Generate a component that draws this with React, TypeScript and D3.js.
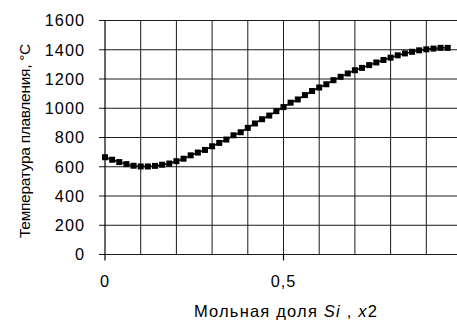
import * as d3 from "d3";

const WIDTH = 457;
const HEIGHT = 322;
const MARGIN = { top: 20.5, left: 105, bottom: 67.5 };

// mole fraction of Si, step 0.02
const moleFraction = [
  0, 0.02, 0.04, 0.06, 0.08, 0.1, 0.12, 0.14, 0.16, 0.18,
  0.2, 0.22, 0.24, 0.26, 0.28, 0.3, 0.32, 0.34, 0.36, 0.38,
  0.4, 0.42, 0.44, 0.46, 0.48, 0.5, 0.52, 0.54, 0.56, 0.58,
  0.6, 0.62, 0.64, 0.66, 0.68, 0.7, 0.72, 0.74, 0.76, 0.78,
  0.8, 0.82, 0.84, 0.86, 0.88, 0.9, 0.92, 0.94, 0.96,
];
const meltingTemp = [
  665, 648, 632, 618, 607, 602, 602, 606, 614, 622,
  638, 655, 678, 697, 715, 740, 763, 786, 815, 836,
  866, 896, 925, 950, 980, 1008, 1038, 1060, 1090, 1118,
  1142, 1164, 1192, 1215, 1238, 1260, 1276, 1295, 1313, 1330,
  1346, 1362, 1375, 1386, 1396, 1403, 1408, 1413, 1413,
];

const yTicks = [0, 200, 400, 600, 800, 1000, 1200, 1400, 1600];
const xGrid = [0.1, 0.2, 0.3, 0.4, 0.5, 0.6, 0.7, 0.8, 0.9, 1.0];
const xTicks = [0, 0.5];
const xTickLabels = ["0", "0,5"];

const FONT = "'Liberation Sans', Arial, sans-serif";

export default function App() {
  const x = d3.scaleLinear().domain([0, 1]).range([MARGIN.left, MARGIN.left + 357]);
  const y = d3.scaleLinear().domain([0, 1600]).range([HEIGHT - MARGIN.bottom, MARGIN.top]);

  const points = moleFraction.map((v, i) => ({ x: v, t: meltingTemp[i] }));
  const line = d3
    .line<{ x: number; t: number }>()
    .x((d) => x(d.x))
    .y((d) => y(d.t));

  const x0 = x(0);
  const xRight = WIDTH + 10;

  return (
    <svg
      width={WIDTH}
      height={HEIGHT}
      style={{ position: "absolute", left: 0, top: 0, background: "#fff" }}
      fontFamily={FONT}
    >
      {/* horizontal grid + y labels */}
      {yTicks.map((v) => (
        <g key={"h" + v}>
          <line x1={x0 - 6} x2={xRight} y1={y(v)} y2={y(v)} stroke="#1a1a1a" strokeWidth={1} />
          <text
            x={85}
            y={y(v)}
            dy="0.36em"
            textAnchor="end"
            fontSize={16.3}
            letterSpacing={1}
            fill="#000"
          >
            {v}
          </text>
        </g>
      ))}
      {/* vertical grid */}
      {xGrid.map((v) => (
        <line key={"v" + v} x1={x(v)} x2={x(v)} y1={y(0)} y2={y(1600)} stroke="#1a1a1a" strokeWidth={1} />
      ))}
      {/* y axis */}
      <line x1={x0} x2={x0} y1={y(0)} y2={y(1600)} stroke="#000" strokeWidth={1.2} />
      {/* x ticks */}
      {xTicks.map((v, i) => (
        <g key={"xt" + v}>
          <line x1={x(v)} x2={x(v)} y1={y(0)} y2={y(0) + 6} stroke="#000" strokeWidth={1.2} />
          <text
            x={x(v)}
            y={y(0) + 27}
            dy="0.36em"
            textAnchor="middle"
            fontSize={16.3}
            letterSpacing={1}
            fill="#000"
          >
            {xTickLabels[i]}
          </text>
        </g>
      ))}
      {/* series */}
      <path d={line(points) ?? ""} fill="none" stroke="#000" strokeWidth={1.5} />
      {points.map((d, i) => (
        <rect key={i} x={x(d.x) - 3} y={y(d.t) - 3} width={6} height={6} fill="#000" />
      ))}
      {/* axis titles */}
      <text
        transform={`translate(24, 141) rotate(-90)`}
        dy="0.36em"
        textAnchor="middle"
        fontSize={15.5}
        letterSpacing={-0.3}
        fill="#000"
      >
        Температура плавления, °C
      </text>
      <text x={286} y={311} dy="0.36em" textAnchor="middle" fontSize={16.5} letterSpacing={1.2} fill="#000">
        Мольная доля <tspan fontStyle="italic">Si</tspan> , <tspan fontStyle="italic">x</tspan>2
      </text>
    </svg>
  );
}
